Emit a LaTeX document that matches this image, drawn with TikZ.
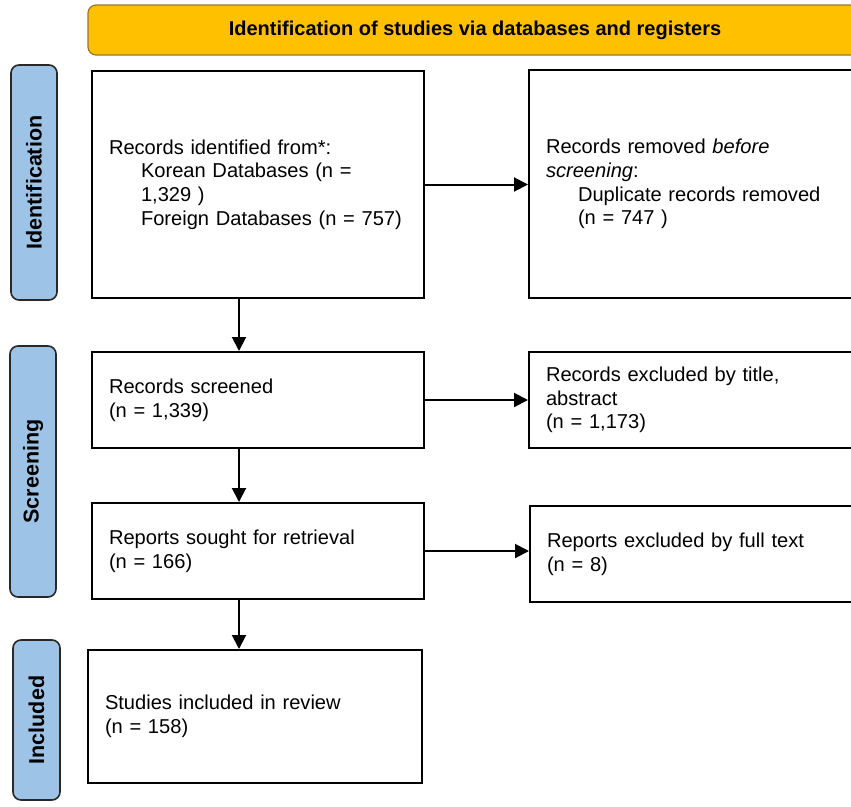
\documentclass[tikz,border=0pt]{standalone}
\usepackage{fontspec}
\setmainfont{Liberation Sans}
\usetikzlibrary{arrows.meta}
\definecolor{bannerfill}{RGB}{255,192,0}
\definecolor{bannerdraw}{RGB}{150,120,40}
\definecolor{barfill}{RGB}{157,195,230}
\definecolor{bardraw}{RGB}{40,40,40}
\tikzset{
  flowbox/.style={draw=black, line width=2pt, rectangle, anchor=north west, align=left,
    inner xsep=17pt, inner ysep=0pt, font=\fontsize{20.1}{23.6}\selectfont},
  sidebar/.style={draw=bardraw, fill=barfill, line width=1.6pt, rounded corners=8pt, rotate=90,
    inner sep=0pt, font=\fontsize{21.5}{24}\selectfont\bfseries},
  banner/.style={draw=bannerdraw, fill=bannerfill, line width=1.2pt, rounded corners=8pt,
    inner sep=0pt, font=\fontsize{20}{24}\selectfont\bfseries},
  flowarrow/.style={line width=2pt, -{Triangle[length=14pt,width=14pt]}}
}
\begin{document}
\begin{tikzpicture}[x=1pt,y=-1pt]
\useasboundingbox (0,0) rectangle (851,806);
\clip (0,0) rectangle (851,806);
\fill[white] (0,0) rectangle (851,806);

% banner
\node[banner, minimum width=774pt, minimum height=50pt] (ban) at (475,30) {Identification of studies via databases and registers};

% side bars
\node[sidebar, minimum width=235pt, minimum height=46pt] (sid) at (34,182.5) {Identification};
\node[sidebar, minimum width=251pt, minimum height=46pt] (sscr) at (33,471.5) {Screening};
\node[sidebar, minimum width=160pt, minimum height=47pt] (sinc) at (36.5,720) {Included};

% boxes
\node[flowbox, text width=298pt, minimum height=227pt] (id1) at (91,70) {Records identified from*:\\
\hspace*{32pt}Korean Databases (n =\\
\hspace*{32pt}1,329 )\\
\hspace*{32pt}\mbox{Foreign Databases (n = 757)}};

\node[flowbox, text width=318pt, minimum height=228pt] (rem) at (528,69) {Records removed \textit{before}\\
\textit{screening}:\\
\hspace*{32pt}Duplicate records removed\\
\hspace*{32pt}(n = 747 )};

\node[flowbox, text width=298pt, minimum height=96pt] (scr) at (91,351) {Records screened\\(n = 1,339)};

\node[flowbox, text width=318pt, minimum height=96pt] (exc) at (528,351) {Records excluded by title,\\abstract\\(n = 1,173)};

\node[flowbox, text width=298pt, minimum height=96pt] (ret) at (91,502) {Reports sought for retrieval\\(n = 166)};

\node[flowbox, text width=318pt, minimum height=96pt] (rex) at (529,505) {Reports excluded by full text\\(n = 8)};

\node[flowbox, text width=300pt, minimum height=133pt] (inc) at (87,649) {Studies included in review\\(n = 158)};

% arrows
\coordinate (ax) at (239,0);
\draw[flowarrow] (id1.east) -- (id1.east -| rem.west);
\draw[flowarrow] (ax |- id1.south) -- (ax |- scr.north);
\draw[flowarrow] (scr.east) -- (scr.east -| exc.west);
\draw[flowarrow] (ax |- scr.south) -- (ax |- ret.north);
\draw[flowarrow] (ret.east) -- (ret.east -| rex.west);
\draw[flowarrow] (ax |- ret.south) -- (ax |- inc.north);
\end{tikzpicture}
\end{document}
